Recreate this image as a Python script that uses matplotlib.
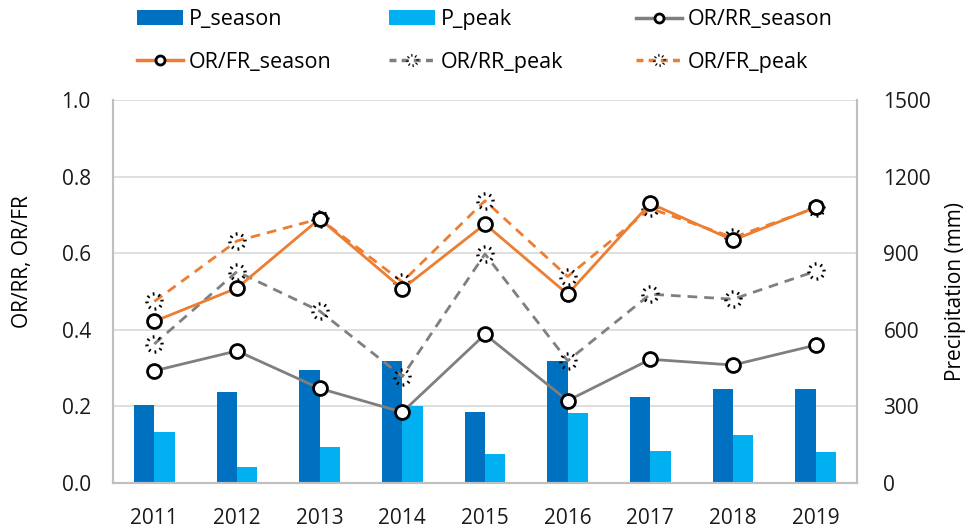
import numpy as np
import matplotlib
matplotlib.use("Agg")
import matplotlib.pyplot as plt
from matplotlib.path import Path
from matplotlib.lines import Line2D
from matplotlib.patches import Patch

plt.rcParams['font.family'] = ['Open Sans', 'DejaVu Sans']

years = ['2011', '2012', '2013', '2014', '2015', '2016', '2017', '2018', '2019']
p_season = [305, 355, 443, 478, 277, 477, 338, 367, 367]
p_peak = [201, 61, 140, 300, 112, 275, 127, 187, 123]
or_rr_season = [0.293, 0.345, 0.247, 0.185, 0.388, 0.215, 0.323, 0.308, 0.360]
or_fr_season = [0.422, 0.509, 0.690, 0.507, 0.676, 0.493, 0.730, 0.634, 0.720]
or_rr_peak = [0.363, 0.552, 0.449, 0.278, 0.598, 0.319, 0.493, 0.480, 0.553]
or_fr_peak = [0.474, 0.632, 0.690, 0.525, 0.737, 0.539, 0.717, 0.641, 0.718]

C_SEASON = '#0070C0'
C_PEAK = '#00B0F0'
C_GRAY = '#7F7F7F'
C_ORANGE = '#ED7D31'
FS = 15
FS_LEG = 15.5
W, H = 979, 528

# dotted-circle marker built from short arc segments
verts, codes = [], []
n = 8
for k in range(n):
    a0 = 2 * np.pi * k / n
    a1 = a0 + 2 * np.pi / n * 0.3
    verts += [(np.cos(a0), np.sin(a0)), (np.cos(a1), np.sin(a1))]
    codes += [Path.MOVETO, Path.LINETO]
dot_circle = Path(verts, codes)

fig = plt.figure(figsize=(W / 100, H / 100), dpi=100)
ax2 = fig.add_axes([113 / W, 45 / H, 744 / W, 383 / H])
ax = ax2.twinx()
x = np.arange(len(years))
w = 0.245

ax2.bar(x - w / 2, p_season, width=w, color=C_SEASON, zorder=2)
ax2.bar(x + w / 2, p_peak, width=w, color=C_PEAK, zorder=2)
ax2.set_ylim(0, 1500)
ax2.set_yticks([0, 300, 600, 900, 1200, 1500])
ax2.set_xlim(-0.5, len(years) - 0.5)
ax2.set_xticks(x)
ax2.set_xticklabels(years)
ax2.yaxis.tick_right()
ax2.yaxis.set_label_position('right')
ax2.set_ylabel('Precipitation (mm)', fontsize=FS)
ax2.yaxis.set_label_coords((945 - 113) / 744, 0.5)
for v in [300, 600, 900, 1200, 1500]:
    ax2.axhline(v, color='#D9D9D9', lw=1.2, zorder=0)

ax.yaxis.tick_left()
ax.yaxis.set_label_position('left')
ax.set_ylim(0, 1.0)
ax.set_yticks([0, 0.2, 0.4, 0.6, 0.8, 1.0])
ax.set_yticklabels(['0.0', '0.2', '0.4', '0.6', '0.8', '1.0'])
ax.set_ylabel('OR/RR, OR/FR', fontsize=FS)
ax.yaxis.set_label_coords((33 - 113) / 744, (483 - 262) / 383)

lw = 2.0
mk_s = dict(marker='o', markersize=10, markerfacecolor='white', markeredgecolor='black', markeredgewidth=2.0)
mk_p = dict(marker=dot_circle, markersize=11, markerfacecolor='none', markeredgecolor='black', markeredgewidth=2.4)

ax.plot(x, or_rr_peak, color=C_GRAY, lw=lw, ls=(0, (3.5, 2.5)), **mk_p, zorder=3)
ax.plot(x, or_fr_peak, color=C_ORANGE, lw=lw, ls=(0, (3.5, 2.5)), **mk_p, zorder=3)
ax.plot(x, or_rr_season, color=C_GRAY, lw=lw, **mk_s, zorder=4)
ax.plot(x, or_fr_season, color=C_ORANGE, lw=lw, **mk_s, zorder=4)

for a in (ax, ax2):
    a.spines['top'].set_visible(False)
    for s in ['left', 'right', 'bottom']:
        a.spines[s].set_color('#BFBFBF')
        a.spines[s].set_linewidth(1.5)
    a.tick_params(length=0, labelsize=FS, colors='#1a1a1a')
ax.tick_params(axis='y', pad=16)
ax2.tick_params(axis='y', pad=19)
ax2.tick_params(axis='x', pad=18)

lmk_s = dict(marker='o', markersize=6.5, markerfacecolor='white', markeredgecolor='black', markeredgewidth=2.0)
lmk_p = dict(marker=dot_circle, markersize=7.5, markerfacecolor='none', markeredgecolor='black', markeredgewidth=2.0)
h_ps = Patch(facecolor=C_SEASON)
h_pp = Patch(facecolor=C_PEAK)
h_rrs = Line2D([], [], color=C_GRAY, lw=2.5, **lmk_s)
h_frs = Line2D([], [], color=C_ORANGE, lw=2.5, **lmk_s)
h_rrp = Line2D([], [], color=C_GRAY, lw=2.5, ls=(0, (2.0, 1.5)), **lmk_p)
h_frp = Line2D([], [], color=C_ORANGE, lw=2.5, ls=(0, (2.0, 1.5)), **lmk_p)

cols = [([h_ps, h_frs], ['P_season', 'OR/FR_season'], 137),
        ([h_pp, h_rrp], ['P_peak', 'OR/RR_peak'], 389),
        ([h_rrs, h_frp], ['OR/RR_season', 'OR/FR_peak'], 636)]
for hs, ls_, px in cols:
    fig.legend(hs, ls_, loc='upper left', bbox_to_anchor=(px / W, 1 - 9 / H),
               frameon=False, fontsize=FS_LEG, handlelength=2.15, handletextpad=0.25,
               labelspacing=1.0, handleheight=0.65, borderpad=0, borderaxespad=0)

fig.savefig('out.png', dpi=100)
